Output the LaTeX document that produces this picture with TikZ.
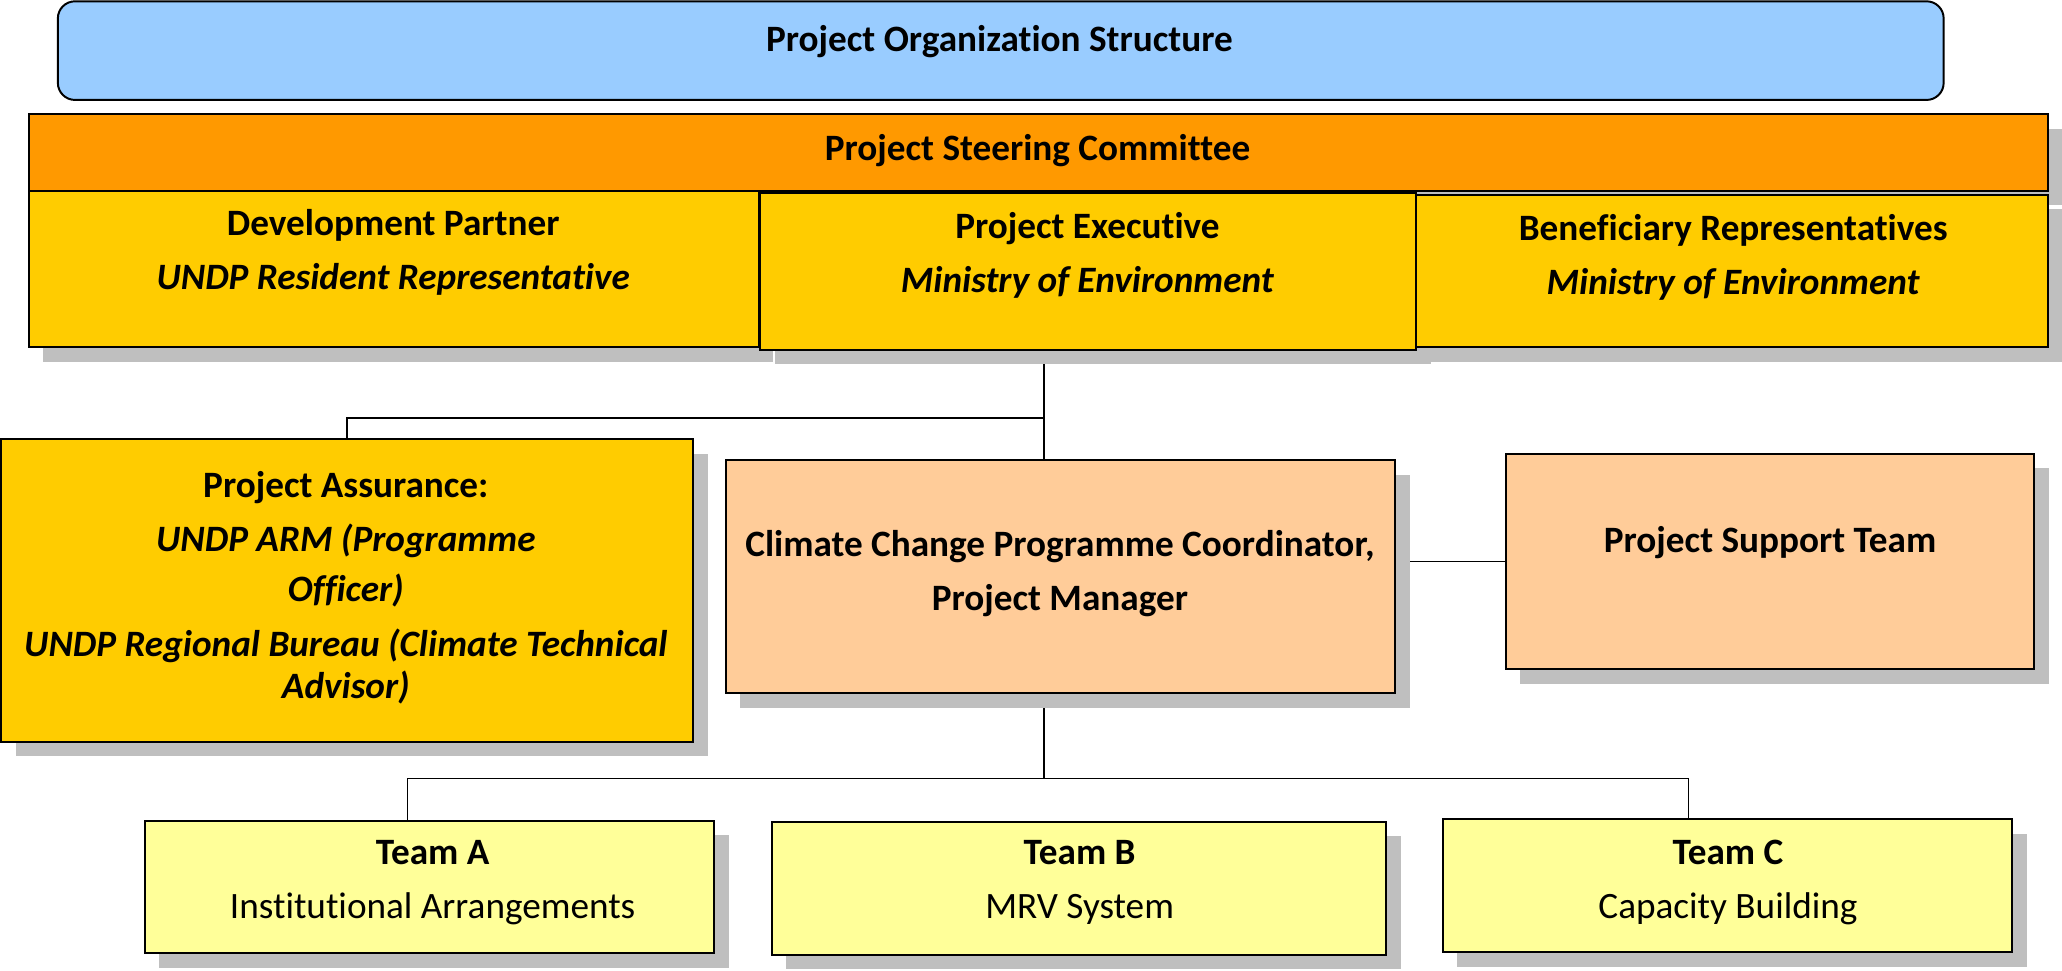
\documentclass[tikz,border=0pt]{standalone}
\usepackage{fontspec}
\setmainfont{Carlito}[Ligatures=NoCommon]
\usetikzlibrary{shadows,backgrounds}
\definecolor{titleblue}{HTML}{99CCFF}
\definecolor{steerorange}{HTML}{FF9900}
\definecolor{boardgold}{HTML}{FFCC00}
\definecolor{mgmtpeach}{HTML}{FFCC99}
\definecolor{teamyellow}{HTML}{FFFF99}
\definecolor{shadowgray}{HTML}{BFBFBF}
\tikzset{
  orgbox/.style={draw=black, line width=1.5pt, inner sep=0pt,
    drop shadow={shadow xshift=11pt, shadow yshift=-11pt, fill=shadowgray, opacity=1}},
  orgtext/.style={align=center, yshift=-2.5pt, font=\fontsize{28.3}{34}\selectfont\bfseries},
  conn/.style={draw=black, line width=1.2pt}
}
\begin{document}
\begin{tikzpicture}[x=1pt, y=-1pt]
      \useasboundingbox (0,0) rectangle (1568,738);
      % top rows
      \node [draw=black, line width=1.5pt, fill=titleblue, rounded corners=13pt,
        minimum width=1434pt, minimum height=75pt] (title) at (761,38.5) {};
      \node [orgtext] at (760,29) {Project Organization Structure};
      \node [orgbox, fill=steerorange, minimum width=1535pt, minimum height=58pt] (steer) at (789.5,116) {};
      \node [orgtext] at (789,112) {Project Steering Committee};
      \node [orgbox, fill=boardgold, minimum width=555pt, minimum height=119pt] (dp) at (299.5,204.5) {};
      \node [orgtext] at (299,189.5) {Development Partner\\[7pt]\textit{UNDP Resident Representative}};
      \node [orgbox, fill=boardgold, minimum width=499pt, minimum height=119pt] (pe) at (827.5,206.5) {};
      \node [orgtext] at (827,191.5) {Project Executive\\[7pt]\textit{Ministry of Environment}};
      \node [orgbox, fill=boardgold, minimum width=480pt, minimum height=116pt] (br) at (1317,206) {};
      \node [orgtext] at (1318,193) {Beneficiary Representatives\\[7pt]\textit{Ministry of Environment}};
      % middle row
      \node [orgbox, fill=boardgold, minimum width=526pt, minimum height=230pt] (pa) at (264,449) {};
      \node [orgtext] at (263,444.5) {Project Assurance:\\[7pt]\textit{UNDP ARM (Programme}\\[4pt]
        \textit{Officer)}\\[8pt]\textit{UNDP Regional Bureau (Climate Technical}\\[-2pt]\textit{Advisor)}};
      \node [orgbox, fill=mgmtpeach, minimum width=509pt, minimum height=177pt] (cc) at (806.5,438.5) {};
      \node [orgtext] at (806,434) {Climate Change Programme Coordinator,\\[7pt]Project Manager};
      \node [orgbox, fill=mgmtpeach, minimum width=402pt, minimum height=164pt] (pst) at (1346,427) {};
      \node [orgtext] at (1346,410) {Project Support Team};
      % teams
      \node [orgbox, fill=teamyellow, minimum width=433pt, minimum height=101pt] (ta) at (326.5,674.5) {};
      \node [orgtext] at (329,668.5) {Team A\\[7pt]\mdseries Institutional Arrangements};
      \node [orgbox, fill=teamyellow, minimum width=467pt, minimum height=101pt] (tb) at (820.5,675.5) {};
      \node [orgtext] at (821,668.5) {Team B\\[7pt]\mdseries MRV System};
      \node [orgbox, fill=teamyellow, minimum width=433pt, minimum height=101pt] (tc) at (1313.5,673.5) {};
      \node [orgtext] at (1314,668.5) {Team C\\[7pt]\mdseries Capacity Building};
      % connectors
      \coordinate (j1) at (794,318);
      \coordinate (j2) at (794,592);
      \coordinate (ja) at (310,592);
      \coordinate (jc) at (1284,592);
      \begin{scope}[on background layer]
        \draw [conn] (j1 |- pe.south) -- (j1 |- cc.north);
        \draw [conn] (j1) -| (pa.north);
        \draw [conn] (pst.west) -- (pst.west -| cc.east);
        \draw [conn] (j1 |- cc.south) -- (j2);
        \draw [conn] (ja |- ta.north) -- (ja) -- (jc) -- (jc |- tc.north);
      \end{scope}
      \end{tikzpicture}
\end{document}
